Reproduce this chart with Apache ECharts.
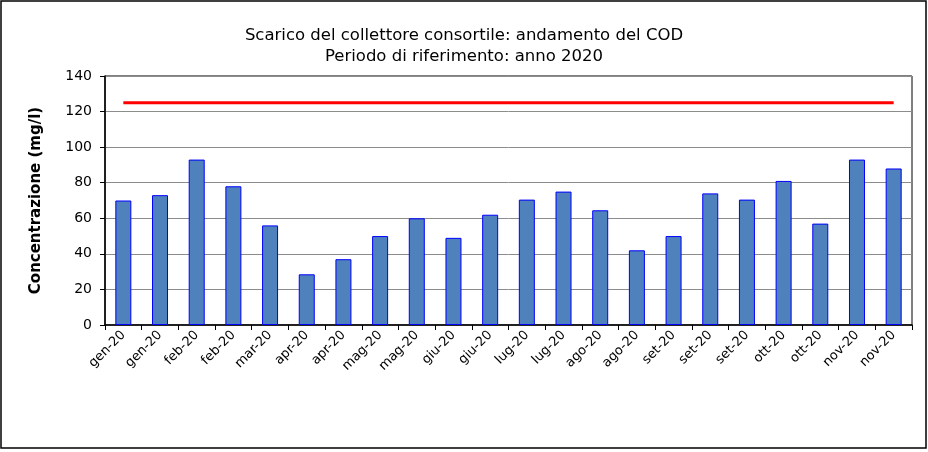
<!DOCTYPE html>
<html>
<head>
<meta charset="utf-8">
<script src="https://cdn.jsdelivr.net/npm/echarts@6/dist/echarts.min.js"></script>
<style>
  html, body { margin: 0; padding: 0; background: #fff; }
  #chart { width: 928px; height: 452px; }
</style>
</head>
<body>
<div id="chart"></div>
<script>
  // campioni COD 2020
  const categories = ['gen-20', 'gen-20', 'feb-20', 'feb-20', 'mar-20', 'apr-20', 'apr-20', 'mag-20', 'mag-20',
    'giu-20', 'giu-20', 'lug-20', 'lug-20', 'ago-20', 'ago-20', 'set-20', 'set-20', 'set-20',
    'ott-20', 'ott-20', 'nov-20', 'nov-20']
  const codValues = [70, 73, 93, 78, 56, 28.5, 37, 50, 60, 49, 62, 70.5, 75, 64.5, 42, 50, 74, 70.5, 81, 57, 93, 88]
  const limitValues = categories.map(() => 125) // limite di legge

  const chart = echarts.init(document.getElementById('chart'))
  const font = 'DejaVu Sans, Arial, sans-serif'

  const option = {
    animation: false,
    textStyle: {fontFamily: font},
    title: {
      text: 'Scarico del collettore consortile: andamento del COD\nPeriodo di riferimento: anno 2020',
      left: 'center',
      top: 20,
      textStyle: {fontSize: 16.5, fontWeight: 'normal', color: '#000', lineHeight: 21, fontFamily: font}
    },
    graphic: [{
      type: 'rect',
      shape: {x: 1, y: 1, width: 925, height: 447},
      style: {fill: 'none', stroke: '#000', lineWidth: 1.5},
      silent: true
    }],
    grid: {
      left: 105,
      right: 16,
      top: 76,
      bottom: 127,
      show: true,
      borderColor: '#000',
      borderWidth: 1
    },
    xAxis: {
      type: 'category',
      data: categories,
      axisLine: {lineStyle: {color: '#000', width: 1.5}},
      axisTick: {show: true, length: 5, lineStyle: {color: '#000'}},
      axisLabel: {rotate: 45, interval: 0, fontSize: 13, color: '#000', margin: 8}
    },
    yAxis: {
      type: 'value',
      min: 0,
      max: 140,
      interval: 20,
      name: 'Concentrazione (mg/l)',
      nameLocation: 'middle',
      nameRotate: 90,
      nameGap: 61,
      nameTextStyle: {fontSize: 15, fontWeight: 'bold', color: '#000'},
      axisLine: {show: true, lineStyle: {color: '#000', width: 1.5}},
      axisTick: {show: true, length: 5, lineStyle: {color: '#000'}},
      axisLabel: {fontSize: 14, color: '#000', margin: 13},
      splitLine: {lineStyle: {color: '#8c8c8c', width: 1}}
    },
    series: [{
      name: 'COD',
      type: 'bar',
      data: codValues,
      barWidth: 16,
      itemStyle: {color: '#4F81BD', borderColor: '#0000FF', borderWidth: 1}
    }, {
      name: 'Limite',
      type: 'line',
      data: limitValues,
      symbol: 'none',
      lineStyle: {color: '#FF0000', width: 3}
    }]
  }
  chart.setOption(option)
</script>
</body>
</html>
